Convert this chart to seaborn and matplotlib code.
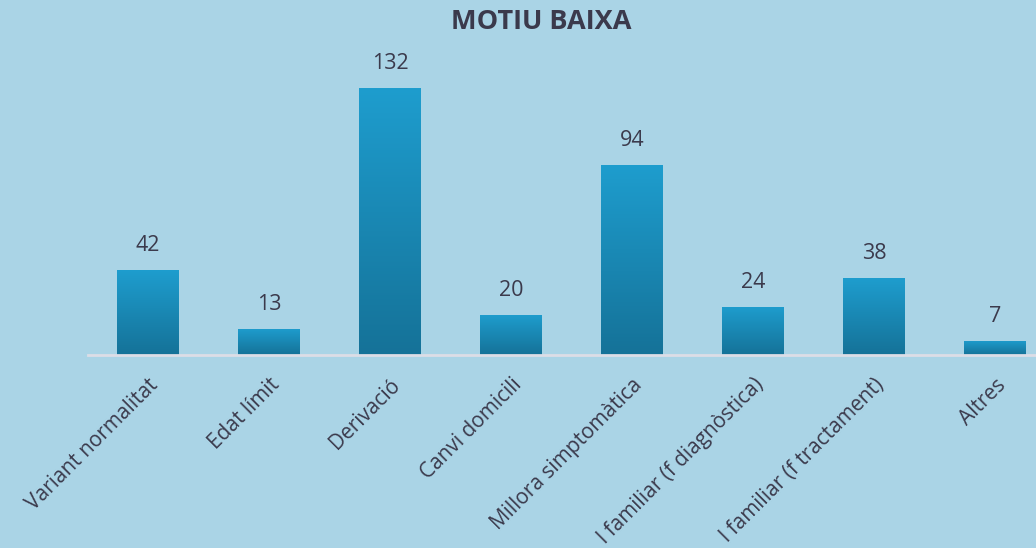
import matplotlib
matplotlib.use("Agg")
import matplotlib.pyplot as plt
import numpy as np
import pandas as pd
import seaborn as sns
from matplotlib.colors import LinearSegmentedColormap

categories = ["Variant normalitat", "Edat límit", "Derivació", "Canvi domicili",
              "Millora simptomàtica", "l familiar (f diagnòstica)",
              "l familiar (f tractament)", "Altres"]
values = [42, 13, 132, 20, 94, 24, 38, 7]
title = "MOTIU BAIXA"

bg = "#AAD4E6"
txt = "#3B3A4C"

sns.set_theme(style="white")
plt.rcParams["font.family"] = ["Open Sans", "DejaVu Sans"]

fig = plt.figure(figsize=(10.36, 5.48), dpi=100, facecolor=bg)
ax = fig.add_axes([87.5 / 1036, 1 - 355 / 548, 968 / 1036, 303 / 548])
ax.set_facecolor(bg)

df = pd.DataFrame({"cat": categories, "val": values})
sns.barplot(data=df, x="cat", y="val", ax=ax, color="#1B8DBB", width=0.51,
            saturation=1, zorder=2)

cmap = LinearSegmentedColormap.from_list("g", ["#157298", "#1E9DCE"])
grad = np.linspace(0, 1, 256).reshape(-1, 1)
for p in list(ax.patches):
    x0, y0 = p.get_x(), p.get_y()
    w, h = p.get_width(), p.get_height()
    im = ax.imshow(grad, cmap=cmap, aspect="auto", origin="lower",
                   extent=[x0, x0 + w, y0, y0 + h], zorder=3)
    im.set_clip_path(p)
    p.set_edgecolor("none")

ax.set_xlim(-0.5, 7.5)
ax.set_ylim(0, 150)
ax.set_autoscale_on(False)

for i, v in enumerate(values):
    ax.annotate(str(v), (i, v), xytext=(0, 10), textcoords="offset points",
                ha="center", va="bottom", fontsize=15.5, color=txt)

ax.set_yticks([])
ax.set_xticks(range(len(categories)))
ax.set_xticklabels(categories, rotation=45, ha="right", rotation_mode="anchor",
                   fontsize=15, color=txt)
ax.tick_params(axis="x", length=0, pad=14)
ax.set_xlabel("")
ax.set_ylabel("")
for s in ["top", "right", "left"]:
    ax.spines[s].set_visible(False)
ax.spines["bottom"].set_color("#DCDDE6")
ax.spines["bottom"].set_linewidth(2)
ax.spines["bottom"].set_zorder(4)

fig.text(541 / 1036, 1 - 22 / 548, title, ha="center", va="center", fontsize=19.5,
         fontweight="bold", color=txt)

fig.savefig("out.png", dpi=100, facecolor=bg)
